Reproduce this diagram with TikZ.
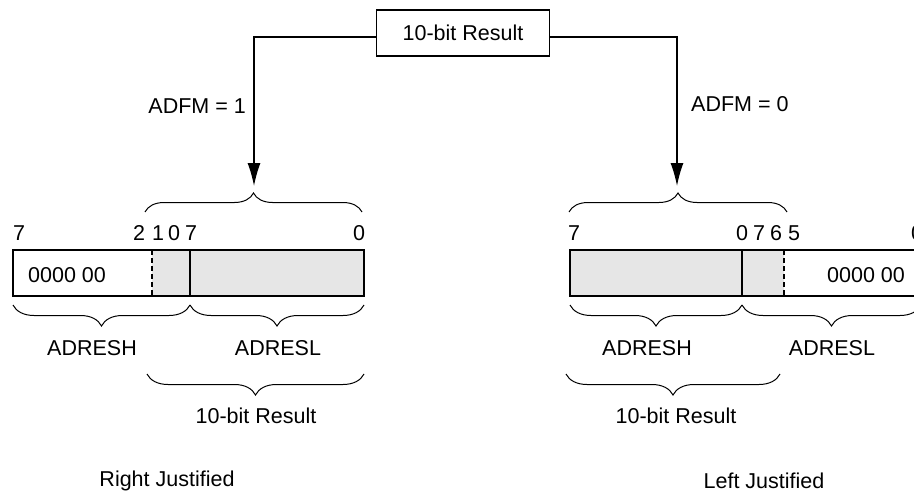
\documentclass[tikz,border=0pt]{standalone}
\usepackage{fontspec}
\setmainfont{Liberation Sans}
\usepackage{tikz}
\usetikzlibrary{arrows.meta}
\usetikzlibrary{decorations.pathreplacing}
\usetikzlibrary{positioning}
\definecolor{bitgray}{HTML}{E6E6E6}
\tikzset{
	lbl/.style={font=\fontsize{21.5}{25}\selectfont, inner sep=0pt},
	regline/.style={line width=1.2pt},
	cutline/.style={line width=1.4pt, dash pattern=on 5pt off 3pt},
	brcup/.style={decorate, decoration={brace, amplitude=19pt}, line width=1pt},
	brcdown/.style={decorate, decoration={brace, amplitude=21pt, mirror}, line width=1pt},
	conn/.style={line width=1.3pt, -{Latex[length=23pt,width=13pt]}},
}

\begin{document}
\begin{tikzpicture}[x=1pt,y=-1pt]
		\useasboundingbox (0,0) rectangle (914,495);
		% result box and the two ways out
		\node[lbl, draw, regline, minimum width=173pt, minimum height=46pt] (res) at (463,33) {10-bit Result};
		\coordinate (tipL) at (254,186);
		\coordinate (tipR) at (677,186);
		\draw[conn] ([yshift=-4pt]res.west) -| (tipL);
		\draw[conn] ([yshift=-4pt]res.east) -| (tipR);
		\node[lbl, anchor=east] (adfmL) at (246,106) {ADFM = 1};
		\node[lbl, anchor=west] (adfmR) at (691,104) {ADFM = 0};

		% right justified
		\fill[bitgray] (152,250) rectangle (364,296);
		\draw[regline] (13,250) rectangle (364,296);
		\draw[cutline] (152,250) -- (152,296);
		\draw[regline] (190,250) -- (190,296);
		\node[lbl] (zL) at (67,275) {0000 00};
		\foreach \x/\b in {19/7,139/2,158/1,174/0,191/7,359/0}
			\node[lbl] (bL\x) at (\x,233) {\b};
		\draw[brcup] (145,212) -- (362,212);
		\draw[brcdown] (13,305) -- (190,305);
		\draw[brcdown] (190,305) -- (364,305);
		\draw[brcdown] (147,374) -- (364,374);
		\node[lbl] (hiL) at (92,348) {ADRESH};
		\node[lbl] (loL) at (278,348) {ADRESL};
		\node[lbl] (resL) at (256,416) {10-bit Result};
		\node[lbl] (capL) at (167,481) {Right Justified};

		% left justified
		\begin{scope}
			\clip (0,0) rectangle (914,495);
			\fill[bitgray] (570,250) rectangle (784,296);
			\draw[regline] (570,250) rectangle (921,296);
			\draw[regline] (742,250) -- (742,296);
			\draw[cutline] (784,250) -- (784,296);
			\node[lbl] (zR) at (866,275) {0000 00};
			\foreach \x/\b in {574/7,742/0,759/7,776/6,794/5,917/0}
				\node[lbl] (bR\x) at (\x,233) {\b};
			\draw[brcup] (569,212) -- (787,212);
			\draw[brcdown] (570,305) -- (742,305);
			\draw[brcdown] (742,305) -- (921,305);
			\draw[brcdown] (566,374) -- (780,374);
			\node[lbl] (hiR) at (647,348) {ADRESH};
			\node[lbl] (loR) at (832,348) {ADRESL};
			\node[lbl] (resR) at (676,416) {10-bit Result};
			\node[lbl] (capR) at (764,481) {Left Justified};
		\end{scope}
\end{tikzpicture}
\end{document}
